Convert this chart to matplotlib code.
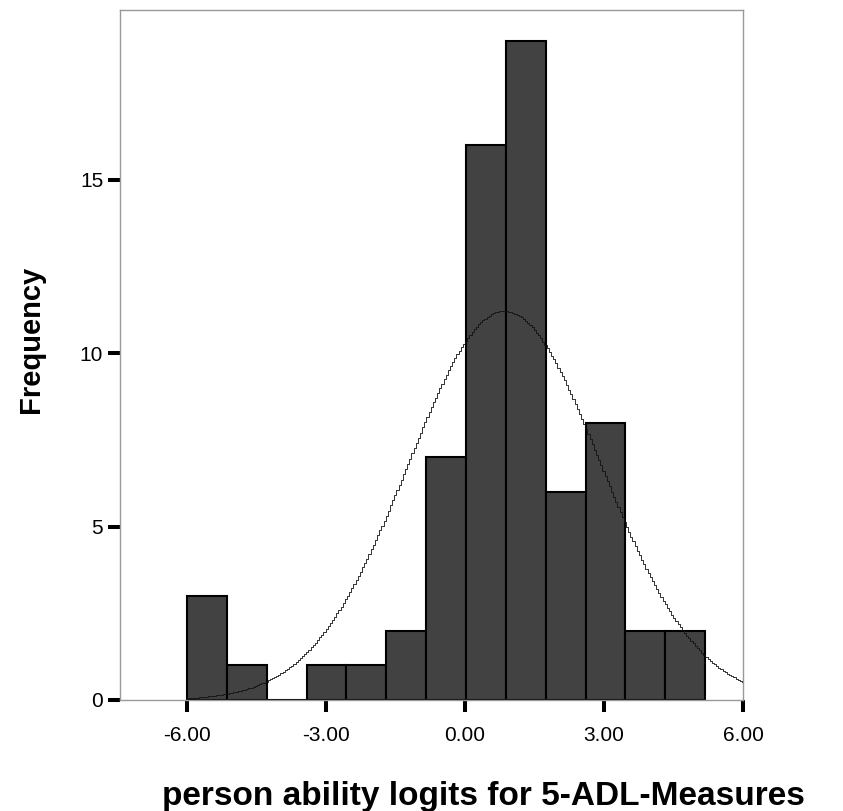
import matplotlib
matplotlib.use("Agg")
import matplotlib.pyplot as plt
import numpy as np

# --- Data ---
bin_edges = [-6.00, -5.14, -4.28, -3.42, -2.56, -1.70, -0.84, 0.02,
             0.88, 1.74, 2.60, 3.46, 4.32, 5.18]
counts = [3, 1, 0, 1, 1, 2, 7, 16, 19, 6, 8, 2, 2]
curve_mean = 0.85
curve_sd = 2.08
x_ticks = [-6.0, -3.0, 0.0, 3.0, 6.0]
x_ticklabels = ["-6.00", "-3.00", "0.00", "3.00", "6.00"]
y_ticks = [0, 5, 10, 15]

plt.rcParams["font.family"] = ["Liberation Sans", "DejaVu Sans"]

fig = plt.figure(figsize=(8.43, 8.11), dpi=100)
ax = fig.add_axes([0.1423, 0.1369, 0.7391, 0.8508])

edges = np.array(bin_edges)
widths = np.diff(edges)
ax.bar(edges[:-1], counts, width=widths, align="edge",
       color="#424242", edgecolor="black", linewidth=1.5, zorder=2)

# normal curve overlay (SPSS style stepped line)
n_total = sum(counts)
bw = widths.mean()
xs = np.linspace(-6.0, 6.0, 260)
ys = n_total * bw * np.exp(-0.5 * ((xs - curve_mean) / curve_sd) ** 2) / (curve_sd * np.sqrt(2 * np.pi))
ax.plot(xs, ys, color="#111111", linewidth=0.6, drawstyle="steps-mid", zorder=3)

ax.set_xlim(-7.45, 6.0)
ax.set_ylim(0, 19.9)
ax.set_xticks(x_ticks)
ax.set_xticklabels(x_ticklabels)
ax.set_yticks(y_ticks)

for s in ax.spines.values():
    s.set_color("#999999")
    s.set_linewidth(1.0)

ax.tick_params(axis="both", direction="out", length=8.6, width=2.9, color="black",
               labelsize=15)
ax.tick_params(axis="x", pad=10)
ax.tick_params(axis="y", pad=3.5)

ax.set_ylabel("Frequency", fontsize=21, fontweight="bold")
ax.yaxis.set_label_coords(-0.12, 0.522)
ax.set_xlabel("person ability logits for 5-ADL-Measures", fontsize=24,
              fontweight="bold")
ax.xaxis.set_label_coords(0.584, -0.117)

fig.savefig("out.png", dpi=100)
plt.close(fig)
